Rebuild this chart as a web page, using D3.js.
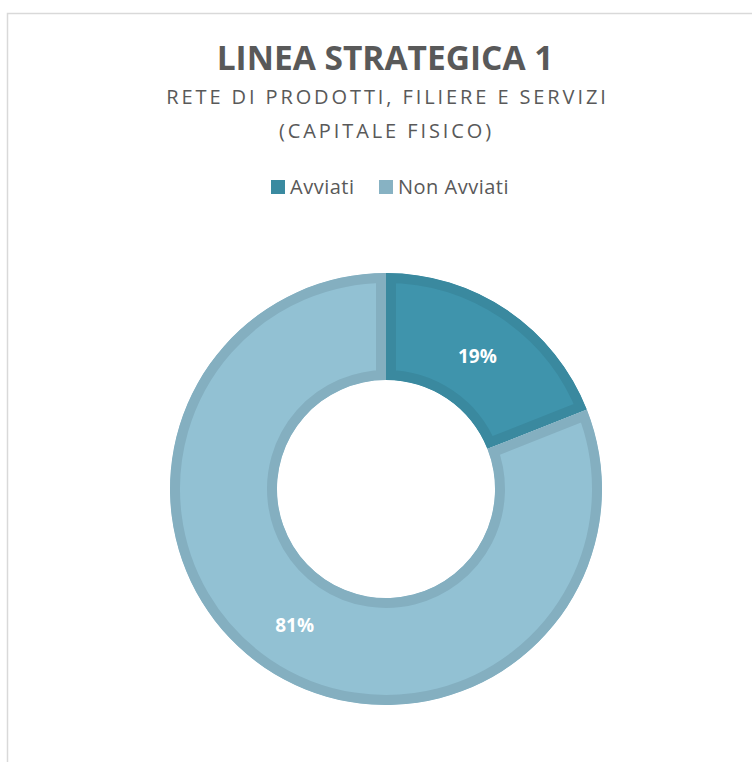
<!DOCTYPE html>
<html>
<head>
<meta charset="utf-8">
<script src="https://cdn.jsdelivr.net/npm/d3@7"></script>
<style>
  body { margin: 0; background: #fff; }
  svg text { font-family: "Open Sans", "Noto Sans", sans-serif; fill: #595959; }
</style>
</head>
<body>
<div id="chart"></div>
<script>
// chart data
var categories = ["Avviati", "Non Avviati"];
var values = [19, 81];
var labels = ["19%", "81%"];
var fills = ["#3f94ac", "#92c1d3"];
var strokes = ["#3a899f", "#84afc0"];
var legendColors = ["#3a8aa0", "#87b2c3"];

var w = 752, h = 762;
var svg = d3.select("#chart").append("svg").attr("width", w).attr("height", h);

// outer frame
svg.append("rect")
    .attr("x", 7.5).attr("y", 13.5)
    .attr("width", 780).attr("height", 780)
    .attr("fill", "none").attr("stroke", "#d9d9d9").attr("stroke-width", 1.5);

// titles
svg.append("text").attr("x", 385).attr("y", 70)
    .attr("text-anchor", "middle")
    .style("font-size", "33.5px").style("font-weight", "bold")
    .text("LINEA STRATEGICA 1");

svg.append("text").attr("x", 387.5).attr("y", 104)
    .attr("text-anchor", "middle")
    .style("font-size", "20px").style("letter-spacing", "2.9px")
    .text("RETE DI PRODOTTI, FILIERE E SERVIZI");

svg.append("text").attr("x", 386.5).attr("y", 138)
    .attr("text-anchor", "middle")
    .style("font-size", "20px").style("letter-spacing", "2.9px")
    .text("(CAPITALE FISICO)");

// legend
var legendX = [271, 379];
var lg = svg.append("g").selectAll("g").data(categories).enter().append("g")
    .attr("transform", function(d, i){ return "translate(" + legendX[i] + ",180)"; });
lg.append("rect").attr("width", 14).attr("height", 14)
    .attr("fill", function(d, i){ return legendColors[i]; });
lg.append("text").attr("x", 19).attr("y", 14)
    .style("font-size", "20px").style("letter-spacing", "0.5px")
    .text(function(d){ return d; });

// donut
var cx = 386, cy = 489, outerR = 216, innerR = 109;
var pie = d3.pie().sort(null).value(function(d){ return d; });
var arc = d3.arc().innerRadius(innerR).outerRadius(outerR);
var arcs = pie(values);

var defs = svg.append("defs");
defs.selectAll("clipPath").data(arcs).enter().append("clipPath")
    .attr("id", function(d, i){ return "clip" + i; })
    .append("path")
    .attr("d", arc);

var g = svg.append("g").attr("transform", "translate(" + cx + "," + cy + ")");

// each slice keeps its thick border inside its own shape
g.selectAll("path.slice").data(arcs).enter().append("path")
    .attr("class", "slice")
    .attr("clip-path", function(d, i){ return "url(#clip" + i + ")"; })
    .attr("d", arc)
    .attr("fill", function(d, i){ return fills[i]; })
    .attr("stroke", function(d, i){ return strokes[i]; })
    .attr("stroke-width", 20);

var labelArc = d3.arc().innerRadius((innerR + outerR) / 2).outerRadius((innerR + outerR) / 2);
g.selectAll("text").data(arcs).enter().append("text")
    .attr("transform", function(d){ return "translate(" + labelArc.centroid(d) + ")"; })
    .attr("text-anchor", "middle")
    .attr("dy", "0.45em")
    .style("font-size", "19px").style("font-weight", "bold")
    .style("fill", "#fff")
    .text(function(d, i){ return labels[i]; });
</script>
</body>
</html>
